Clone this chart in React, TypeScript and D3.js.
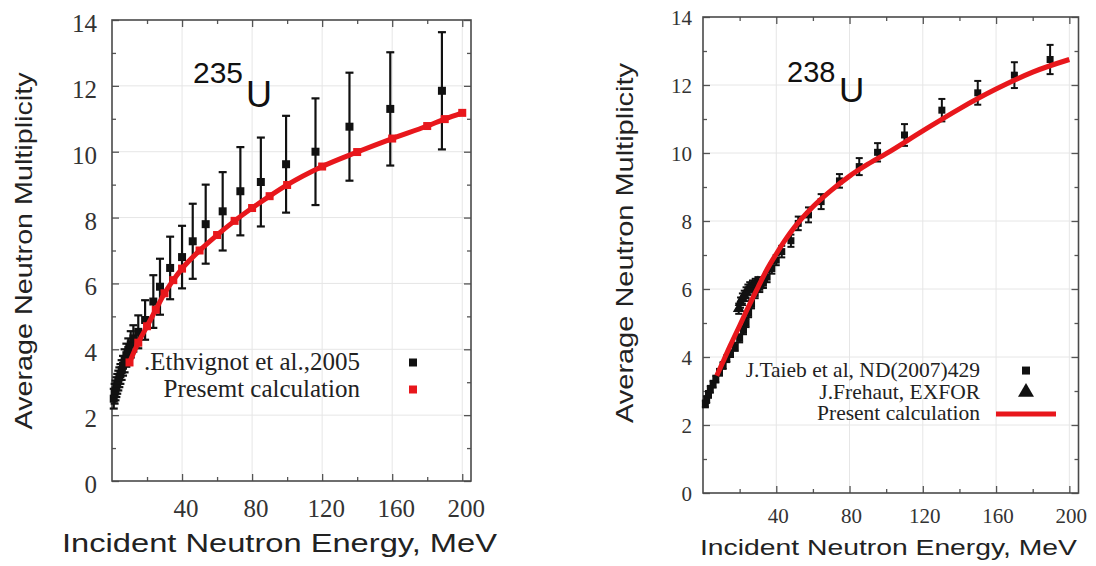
import React, { useEffect, useRef } from 'react';
import * as d3 from 'd3';

// 235U - Ethvignot et al., 2005 (energy MeV, multiplicity, error)
const ethE = [1.0, 1.5, 2.0, 2.5, 3.0, 3.6, 4.2, 4.8, 5.5, 6.3, 7.2, 8.2, 9.3, 10.7, 12.2, 15, 18.9, 23.6, 27.4, 33.2, 40, 46.1, 53.5, 63.2, 73.3, 85, 99.4, 116.2, 135.6, 158.9, 188.4];
const ethNu = [2.5, 2.65, 2.75, 2.85, 2.95, 3.05, 3.15, 3.25, 3.37, 3.5, 3.65, 3.82, 3.98, 4.15, 4.33, 4.53, 4.89, 5.45, 5.9, 6.47, 6.8, 7.28, 7.8, 8.19, 8.8, 9.08, 9.62, 10.0, 10.76, 11.3, 11.85];
const ethErr = [0.3, 0.3, 0.3, 0.3, 0.3, 0.3, 0.3, 0.3, 0.3, 0.3, 0.35, 0.35, 0.35, 0.4, 0.4, 0.5, 0.6, 0.8, 0.85, 0.95, 0.95, 1.14, 1.2, 1.19, 1.34, 1.35, 1.47, 1.62, 1.64, 1.72, 1.78];

// 235U - present calculation
const calc235E = [10, 15, 20, 25, 30, 35, 40, 50, 60, 70, 80, 90, 100, 120, 140, 160, 180, 190, 200];
const calc235Nu = [3.6, 4.2, 4.7, 5.2, 5.7, 6.1, 6.45, 7.0, 7.47, 7.9, 8.29, 8.65, 8.99, 9.55, 9.99, 10.4, 10.78, 10.99, 11.18];

// 238U - J.Taieb et al, ND(2007)429
const taiebE = [1.3, 2.0, 3.0, 4.0, 5.5, 7.0, 9.0, 11, 13, 15, 17.6, 20, 22.1, 23.5, 24.9, 26.5, 28.5, 31, 33, 35, 37.6, 40, 43, 48, 52, 57.6, 64.5, 74.5, 85.3, 95.3, 110, 130.4, 150, 170, 189.5];
const taiebNu = [2.62, 2.75, 2.9, 3.05, 3.2, 3.35, 3.55, 3.75, 3.95, 4.1, 4.3, 4.55, 4.79, 5.0, 5.29, 5.55, 5.87, 6.05, 6.17, 6.35, 6.6, 6.85, 7.1, 7.42, 7.93, 8.18, 8.57, 9.18, 9.6, 10.02, 10.53, 11.26, 11.77, 12.29, 12.75];
const taiebErr = [0.1, 0.1, 0.1, 0.1, 0.1, 0.1, 0.1, 0.1, 0.1, 0.1, 0.12, 0.12, 0.12, 0.12, 0.12, 0.12, 0.14, 0.14, 0.14, 0.15, 0.15, 0.15, 0.17, 0.18, 0.2, 0.22, 0.22, 0.2, 0.25, 0.27, 0.32, 0.33, 0.35, 0.38, 0.43];

// 238U - J.Frehaut, EXFOR
const frehautE = [19.5, 20.5, 21.5, 22.5, 23.5, 24.5, 25.5, 27, 28.5, 30];
const frehautNu = [5.42, 5.6, 5.72, 5.8, 5.9, 5.98, 6.05, 6.1, 6.15, 6.2];
const frehautErr = [0.15, 0.15, 0.15, 0.15, 0.15, 0.15, 0.15, 0.15, 0.15, 0.15];

// 238U - present calculation
const calc238E = [7.5, 10, 15, 20, 25, 30, 35, 40, 45, 50, 60, 70, 80, 90, 100, 120, 140, 160, 180, 200];
const calc238Nu = [3.45, 3.75, 4.35, 4.92, 5.5, 6.05, 6.58, 7.03, 7.45, 7.82, 8.42, 8.9, 9.32, 9.67, 9.98, 10.65, 11.3, 11.88, 12.38, 12.75];

const xMajor = [40, 80, 120, 160, 200];
const xMinor = [20, 60, 100, 140, 180];
const yMajor = [0, 2, 4, 6, 8, 10, 12, 14];
const yMinor = [1, 3, 5, 7, 9, 11, 13];

const RED = '#e8171c';
const SERIF = "'Liberation Serif', 'Times New Roman', serif";
const SANS = "'Liberation Sans', Arial, sans-serif";

function drawPanel(root, p) {
    const g = root.append('g');
    const x = d3.scaleLinear().domain([0, 205]).range([p.left, p.right]);
    const y = d3.scaleLinear().domain([0, 14]).range([p.bottom, p.top]);

    // grid
    g.selectAll('.gx').data(xMajor).enter().append('line')
        .attr('x1', d => x(d)).attr('x2', d => x(d))
        .attr('y1', p.top).attr('y2', p.bottom)
        .attr('stroke', '#e6e6e6').attr('stroke-width', 1);
    g.selectAll('.gy').data(yMajor.slice(1, -1)).enter().append('line')
        .attr('x1', p.left).attr('x2', p.right)
        .attr('y1', d => y(d)).attr('y2', d => y(d))
        .attr('stroke', '#e6e6e6').attr('stroke-width', 1);

    // inward ticks on all four sides
    const tickAxes = [
        [d3.axisBottom(x), `translate(0,${p.bottom})`, xMajor, xMinor],
        [d3.axisTop(x), `translate(0,${p.top})`, xMajor, xMinor],
        [d3.axisLeft(y), `translate(${p.left},0)`, yMajor, yMinor],
        [d3.axisRight(y), `translate(${p.right},0)`, yMajor, yMinor],
    ];
    tickAxes.forEach(([ax, tr, major, minor]) => {
        g.append('g').attr('transform', tr)
            .call(ax.tickValues(major).tickSize(-7).tickFormat(() => ''))
            .call(s => s.select('.domain').remove())
            .selectAll('line').attr('stroke', '#555').attr('stroke-width', 1.3);
        g.append('g').attr('transform', tr)
            .call(ax.tickValues(minor).tickSize(-4).tickFormat(() => ''))
            .call(s => s.select('.domain').remove())
            .selectAll('line').attr('stroke', '#555').attr('stroke-width', 1.3);
    });

    g.append('rect')
        .attr('x', p.left).attr('y', p.top)
        .attr('width', p.right - p.left).attr('height', p.bottom - p.top)
        .attr('fill', 'none').attr('stroke', '#4a4a4a').attr('stroke-width', 1.6);

    // tick labels
    g.selectAll('.xl').data(xMajor).enter().append('text')
        .attr('x', d => x(d) + p.xLabelShift).attr('y', p.bottom + p.xLabelDy)
        .attr('text-anchor', 'middle')
        .attr('font-family', SERIF).attr('font-size', p.tickFont).attr('fill', '#333')
        .text(d => d);
    g.selectAll('.yl').data(yMajor).enter().append('text')
        .attr('x', p.left - p.yLabelGap).attr('y', d => y(d) + p.yLabelDy)
        .attr('text-anchor', 'end')
        .attr('font-family', SERIF).attr('font-size', p.tickFont).attr('fill', '#333')
        .text(d => d);

    // experimental points with error bars
    p.series.forEach(s => {
        const pts = s.E.map((e, i) => ({ e, v: s.nu[i], err: s.err[i] }));
        const bars = g.append('g').attr('stroke', '#111').attr('stroke-width', s.barWidth);
        pts.forEach(d => {
            bars.append('line').attr('x1', x(d.e)).attr('x2', x(d.e))
                .attr('y1', y(d.v - d.err)).attr('y2', y(d.v + d.err));
            bars.append('line').attr('x1', x(d.e) - s.cap).attr('x2', x(d.e) + s.cap)
                .attr('y1', y(d.v + d.err)).attr('y2', y(d.v + d.err));
            bars.append('line').attr('x1', x(d.e) - s.cap).attr('x2', x(d.e) + s.cap)
                .attr('y1', y(d.v - d.err)).attr('y2', y(d.v - d.err));
        });
        const sym = s.shape === 'triangle' ? d3.symbolTriangle : d3.symbolSquare;
        g.append('g').selectAll('path').data(pts).enter().append('path')
            .attr('d', d3.symbol().type(sym).size(s.size))
            .attr('transform', d => `translate(${x(d.e)},${y(d.v)})`)
            .attr('fill', '#111');
    });

    // present calculation
    const calc = p.calcE.map((e, i) => ({ e, v: p.calcNu[i] }));
    const line = d3.line().x(d => x(d.e)).y(d => y(d.v)).curve(d3.curveMonotoneX);
    g.append('path').datum(calc)
        .attr('d', line).attr('fill', 'none')
        .attr('stroke', RED).attr('stroke-width', 5).attr('stroke-linejoin', 'round');
    if (p.calcMarkers) {
        g.append('g').selectAll('rect').data(calc).enter().append('rect')
            .attr('x', d => x(d.e) - 4).attr('y', d => y(d.v) - 4)
            .attr('width', 8).attr('height', 8).attr('fill', RED);
    }

    // nucleus label
    g.append('text').attr('x', p.iso.x).attr('y', p.iso.y)
        .attr('font-family', SANS).attr('font-size', p.iso.size).attr('fill', '#111')
        .text(p.iso.mass);
    g.append('text').attr('x', p.iso.ux).attr('y', p.iso.uy)
        .attr('font-family', SANS).attr('font-size', p.iso.usize).attr('fill', '#111')
        .text('U');

    // legend
    p.legend.items.forEach((it, i) => {
        const ly = p.legend.y + i * p.legend.step;
        g.append('text').attr('x', p.legend.textX).attr('y', ly)
            .attr('text-anchor', 'end')
            .attr('font-family', SERIF).attr('font-size', p.legend.font).attr('fill', '#222')
            .text(it.label);
        const cy = ly - p.legend.font * 0.3;
        if (it.kind === 'line') {
            g.append('line').attr('x1', p.legend.symX - 30).attr('x2', p.legend.symX + 30)
                .attr('y1', cy).attr('y2', cy)
                .attr('stroke', RED).attr('stroke-width', 5);
        } else {
            const sym = it.kind === 'triangle' ? d3.symbolTriangle : d3.symbolSquare;
            g.append('path')
                .attr('d', d3.symbol().type(sym).size(it.kind === 'triangle' ? 110 : 64))
                .attr('transform', `translate(${p.legend.symX},${cy})`)
                .attr('fill', it.color);
        }
    });

    // axis titles
    g.append('text').attr('x', p.xTitle.x).attr('y', p.xTitle.y)
        .attr('font-family', SANS).attr('font-size', p.xTitle.size).attr('fill', '#222')
        .attr('textLength', p.xTitle.len).attr('lengthAdjust', 'spacingAndGlyphs')
        .text('Incident Neutron Energy, MeV');
    g.append('text')
        .attr('transform', `translate(${p.yTitle.x},${p.yTitle.y}) rotate(-90)`)
        .attr('text-anchor', 'middle')
        .attr('font-family', SANS).attr('font-size', p.yTitle.size).attr('fill', '#222')
        .attr('textLength', p.yTitle.len).attr('lengthAdjust', 'spacingAndGlyphs')
        .text('Average Neutron Multiplicity');
}

export default function App() {
    const ref = useRef(null);

    useEffect(() => {
        const svg = d3.select(ref.current);
        svg.selectAll('*').remove();

        drawPanel(svg, {
            left: 112, right: 471, top: 20, bottom: 481,
            tickFont: 25, xLabelShift: 4, xLabelDy: 36, yLabelGap: 15, yLabelDy: 12,
            series: [{ E: ethE, nu: ethNu, err: ethErr, shape: 'square', size: 64, cap: 4, barWidth: 2.2 }],
            calcE: calc235E, calcNu: calc235Nu, calcMarkers: true,
            iso: { mass: '235', x: 193, y: 83, size: 30, ux: 246, uy: 107, usize: 36 },
            legend: {
                textX: 360, y: 370, step: 27, font: 25, symX: 413,
                items: [
                    { label: '.Ethvignot et al.,2005', kind: 'square', color: '#111' },
                    { label: 'Presemt calculation', kind: 'square', color: RED },
                ],
            },
            xTitle: { x: 62, y: 552, size: 26, len: 435 },
            yTitle: { x: 32, y: 251, size: 24, len: 357 },
        });

        drawPanel(svg, {
            left: 703, right: 1078.5, top: 17, bottom: 493,
            tickFont: 21, xLabelShift: 2, xLabelDy: 30, yLabelGap: 11, yLabelDy: 8,
            series: [
                { E: taiebE, nu: taiebNu, err: taiebErr, shape: 'square', size: 49, cap: 3.5, barWidth: 2 },
                { E: frehautE, nu: frehautNu, err: frehautErr, shape: 'triangle', size: 60, cap: 3.5, barWidth: 2 },
            ],
            calcE: calc238E, calcNu: calc238Nu, calcMarkers: false,
            iso: { mass: '238', x: 787, y: 82, size: 29, ux: 839, uy: 102, usize: 35 },
            legend: {
                textX: 980, y: 377, step: 21.7, font: 21.5, symX: 1026,
                items: [
                    { label: 'J.Taieb et al, ND(2007)429', kind: 'square', color: '#111' },
                    { label: 'J.Frehaut, EXFOR', kind: 'triangle', color: '#111' },
                    { label: 'Present calculation', kind: 'line', color: RED },
                ],
            },
            xTitle: { x: 700, y: 555, size: 22, len: 377 },
            yTitle: { x: 633, y: 243, size: 24, len: 360 },
        });
    }, []);

    return (
        <svg ref={ref} width={1096} height={566}
            style={{ position: 'absolute', left: 0, top: 0, background: '#fff' }} />
    );
}
